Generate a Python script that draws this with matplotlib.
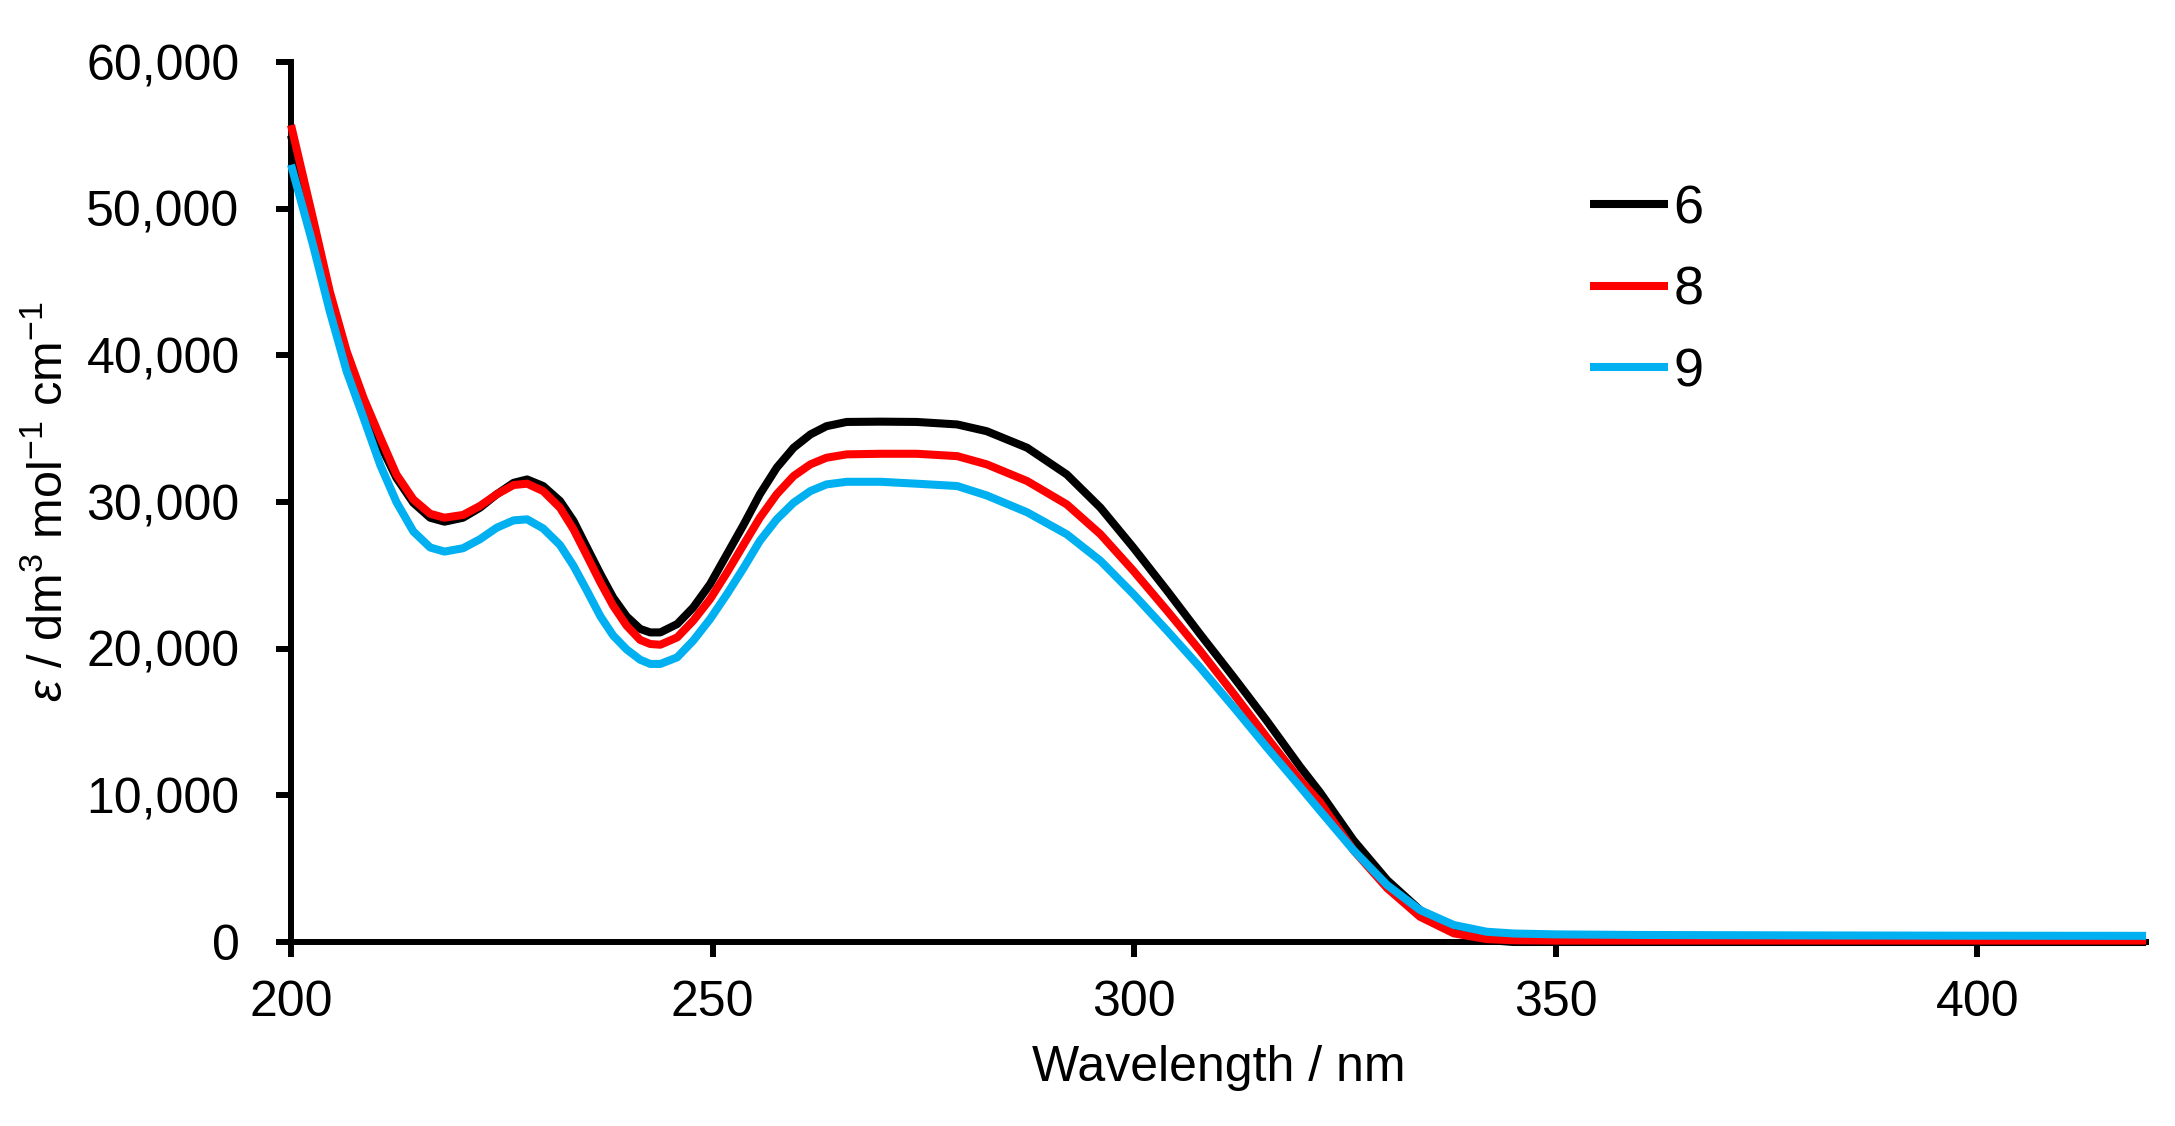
import matplotlib
matplotlib.use("Agg")
import matplotlib.pyplot as plt
from matplotlib.ticker import FuncFormatter, MultipleLocator

plt.rcParams["font.family"] = ["Liberation Sans", "DejaVu Sans"]
plt.rcParams["mathtext.fontset"] = "custom"
plt.rcParams["mathtext.rm"] = "Liberation Sans"
plt.rcParams["mathtext.it"] = "Liberation Sans:italic"

# ── data ─────────────────────────────────────────────────────────────────────
WAVELENGTH = [200, 202.6, 204.6, 206.6, 208.6, 210.6, 212.5, 214.5, 216.5, 218.2,
              220.4, 222.4, 224.4, 226.4, 228, 229.9, 231.9, 233.5, 235.1, 236.7,
              238.2, 239.8, 241.4, 242.6, 243.8, 245.8, 247.7, 249.7, 251.7, 253.7,
              255.6, 257.6, 259.6, 261.6, 263.5, 265.9, 269.9, 274.2, 279, 282.5,
              287.3, 292, 296, 299.9, 303.9, 307.8, 311.8, 315.7, 319.7, 322,
              326, 330, 333.9, 337.9, 341.8, 345, 350, 360, 380, 400,
              420]

EPS_6 = [55000, 49100, 44100, 40000, 36800, 33900, 31650, 29950, 28930, 28660,
         28930, 29610, 30530, 31310, 31540, 31090, 30070, 28710, 26890, 25080,
         23490, 22200, 21350, 21110, 21110, 21680, 22810, 24400, 26440, 28480,
         30530, 32340, 33700, 34610, 35170, 35460, 35480, 35460, 35290, 34830,
         33700, 31880, 29610, 26890, 23950, 21000, 18050, 15100, 11930, 10230,
         6940, 4220, 2180, 820, 140, 0, 0, 0, 0, 0,
         0]

EPS_8 = [55700, 49340, 44350, 40270, 37100, 34380, 31880, 30180, 29200, 28930,
         29120, 29730, 30530, 31160, 31250, 30750, 29610, 28140, 26330, 24510,
         22930, 21570, 20600, 20320, 20270, 20770, 21910, 23380, 25190, 27120,
         28930, 30530, 31770, 32570, 33020, 33250, 33290, 33290, 33130, 32570,
         31430, 29840, 27800, 25310, 22590, 19870, 16920, 13970, 11020, 9560,
         6260, 3670, 1720, 590, 200, 120, 100, 100, 100, 100,
         100]

EPS_9 = [53000, 47550, 43000, 38910, 35740, 32500, 30000, 28000, 26900, 26620,
         26850, 27460, 28250, 28750, 28820, 28200, 27070, 25650, 23950, 22200,
         20900, 19950, 19250, 18960, 18960, 19410, 20550, 22020, 23720, 25530,
         27350, 28820, 29950, 30750, 31200, 31380, 31380, 31250, 31090, 30450,
         29300, 27800, 25990, 23720, 21230, 18730, 16010, 13290, 10570, 8980,
         6260, 3880, 2180, 1160, 700, 580, 520, 480, 450, 430,
         420]

SERIES = [("6", EPS_6, "#000000"),
          ("8", EPS_8, "#FF0000"),
          ("9", EPS_9, "#00B0F0")]

fig = plt.figure(figsize=(21.75, 11.26), dpi=100)
ax = fig.add_axes([0.1338, 0.1634, 0.8529, 0.7815])

for label, eps, color in SERIES:
    ax.plot(WAVELENGTH, eps, color=color, lw=5.8, label=label,
            solid_capstyle="butt", solid_joinstyle="round",
            clip_on=False, zorder=3)

ax.set_xlim(200, 420)
ax.set_ylim(0, 60000)
ax.xaxis.set_major_locator(MultipleLocator(50))
ax.yaxis.set_major_locator(MultipleLocator(10000))
ax.yaxis.set_major_formatter(FuncFormatter(lambda v, _: f"{int(v):,}"))

for side in ("top", "right"):
    ax.spines[side].set_visible(False)
for side in ("left", "bottom"):
    ax.spines[side].set_linewidth(4.3)
    ax.spines[side].set_zorder(2)

ax.tick_params(axis="both", direction="out", length=11, width=4.3,
               labelsize=36, colors="black")
ax.tick_params(axis="y", pad=26)
ax.tick_params(axis="x", pad=16)

ax.set_xlabel("Wavelength / nm", fontsize=36)
ax.xaxis.set_label_coords(0.5, -0.117)
ax.set_ylabel(r"$\varepsilon$ / dm$^{3}$ mol$^{-1}$ cm$^{-1}$", fontsize=35)
ax.yaxis.set_label_coords(-0.118, 0.5)

ax.legend(loc="upper left", bbox_to_anchor=(0.700, 0.861), frameon=False,
          fontsize=39, handlelength=1.45, handletextpad=0.1,
          labelspacing=0.58, borderpad=0, borderaxespad=0)

fig.savefig("out.png", dpi=100, facecolor="white")
